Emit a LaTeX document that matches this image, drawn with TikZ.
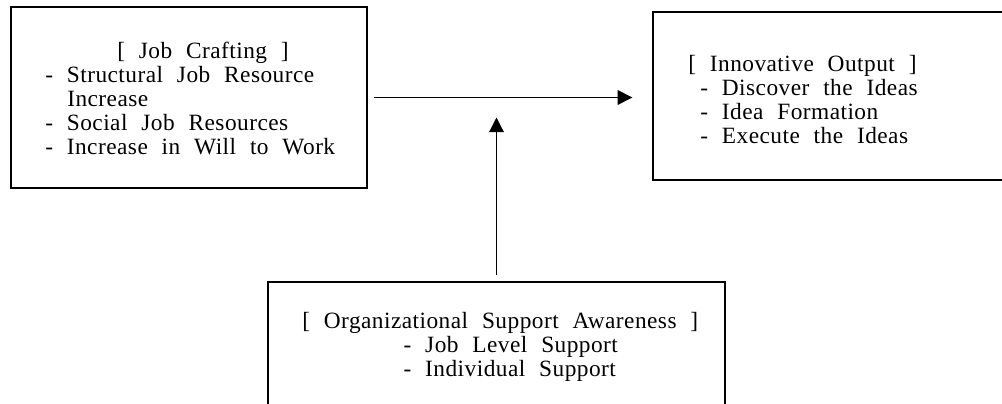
\documentclass[tikz,border=0pt]{standalone}
\usepackage{fontspec}
\setmainfont{Liberation Serif}[LetterSpace=2,WordSpace=2.2]
\usepackage{tikz}
\usetikzlibrary{arrows.meta}

\tikzset{
  box/.style={draw, line width=1pt, inner sep=0pt},
  boxtext/.style={align=left, inner sep=0pt, anchor=north west,
    font=\fontsize{17.5}{18.1}\selectfont},
  arr/.style={-{Triangle[length=11pt,width=11pt]}, line width=0.9pt}
}

\begin{document}
\begin{tikzpicture}[x=0.75pt,y=0.75pt,yscale=-1,xscale=1]
\useasboundingbox (0,0) rectangle (1002,403);

%Shape: Rectangle [job crafting]
\node[box, minimum width=267pt, minimum height=135.75pt] (craft) at (189,97.5) {};
%Shape: Rectangle [innovative output]
\node[box, minimum width=271.5pt, minimum height=126pt] (output) at (834,96) {};
%Shape: Rectangle [support awareness]
\node[box, minimum width=342.75pt, minimum height=103.5pt] (support) at (496.5,351) {};

% Text Node
\node[boxtext] (craftTxt) at (45,41.6) {\hspace*{54pt}[ Job Crafting ]\\
  - Structural Job Resource\\
  \hspace*{16.5pt}Increase\\
  - Social Job Resources\\
  - Increase in Will to Work};
% Text Node
\node[boxtext] (outputTxt) at (688,54.6) {[ Innovative Output ]\\
  \hspace*{9pt}- Discover the Ideas\\
  \hspace*{9pt}- Idea Formation\\
  \hspace*{9pt}- Execute the Ideas};
% Text Node
\node[boxtext] (supportTxt) at (302,311.6) {[ Organizational Support Awareness ]\\
  \hspace*{76pt}- Job Level Support\\
  \hspace*{76pt}- Individual Support};

%Straight Lines [arrows]
\coordinate (join) at (support.north |- craft.east);
\draw[arr, shorten <=4.5pt, shorten >=15pt] (craft.east) -- (output.west |- craft.east);
\draw[arr, shorten <=5pt, shorten >=15pt] (support.north) -- (join);

\end{tikzpicture}
\end{document}
